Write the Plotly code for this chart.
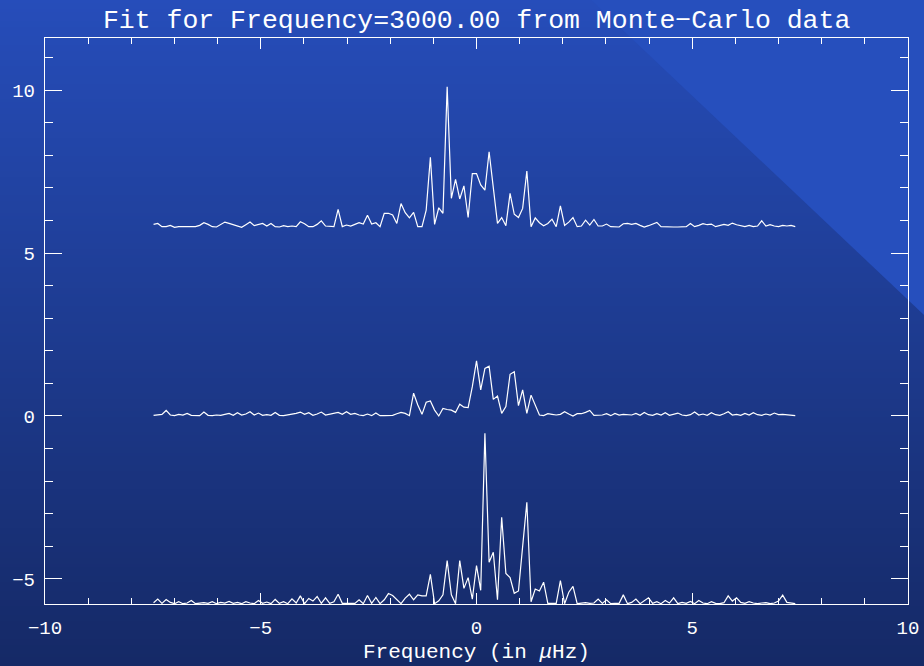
import plotly.graph_objects as go

# ---------------- data ----------------
x_start = -7.484
x_step = 0.0972
n_points = 154

top_trace = [
    5.88, 5.91, 5.81, 5.81, 5.85, 5.79, 5.81, 5.81, 5.81, 5.81,
    5.81, 5.85, 5.93, 5.88, 5.81, 5.80, 5.87, 5.95, 5.91, 5.87,
    5.83, 5.79, 5.87, 5.95, 5.84, 5.87, 5.91, 5.83, 5.91, 5.81,
    5.80, 5.84, 5.81, 5.83, 5.81, 5.96, 5.90, 5.81, 5.81, 5.88,
    5.99, 5.83, 5.83, 5.81, 6.34, 5.81, 5.86, 5.83, 5.88, 5.93,
    5.89, 6.16, 5.89, 5.93, 5.81, 6.22, 6.22, 6.17, 5.91, 6.52,
    6.24, 6.08, 6.25, 5.81, 5.81, 6.32, 7.94, 5.88, 6.39, 6.22,
    10.10, 6.68, 7.26, 6.66, 7.06, 6.09, 7.44, 7.44, 7.09, 6.93,
    8.11, 7.03, 5.91, 6.09, 5.84, 6.83, 6.19, 6.09, 6.37, 7.52,
    5.81, 6.08, 5.93, 5.84, 5.91, 6.04, 5.81, 6.45, 5.85, 5.95,
    6.09, 5.81, 5.83, 6.01, 5.86, 6.03, 5.83, 5.83, 5.89, 5.81,
    5.80, 5.80, 5.90, 5.91, 5.88, 5.91, 5.85, 5.80, 5.84, 5.88,
    5.94, 5.81, 5.80, 5.80, 5.80, 5.80, 5.80, 5.81, 5.91, 5.81,
    5.85, 5.90, 5.87, 5.89, 5.81, 5.85, 5.88, 5.85, 5.92, 5.87,
    5.83, 5.81, 5.85, 5.81, 5.83, 5.99, 5.83, 5.87, 5.83, 5.81,
    5.85, 5.83, 5.85, 5.81,
]

middle_trace = [
    0.02, 0.03, 0.05, 0.17, 0.03, 0.01, 0.05, 0.03, 0.08, 0.02,
    0.02, 0.01, 0.12, 0.02, 0.01, 0.03, 0.02, 0.05, 0.08, 0.02,
    0.10, 0.03, 0.06, 0.13, 0.03, 0.09, 0.02, 0.04, 0.02, 0.11,
    0.02, 0.01, 0.03, 0.05, 0.08, 0.12, 0.05, 0.10, 0.02, 0.06,
    0.12, 0.03, 0.05, 0.08, 0.11, 0.05, 0.13, 0.05, 0.08, 0.03,
    0.01, 0.06, 0.01, 0.09, 0.01, 0.01, 0.02, 0.02, 0.07, 0.11,
    0.08, 0.01, 0.70, 0.34, 0.05, 0.42, 0.46, 0.18, 0.00, 0.23,
    0.20, 0.18, 0.11, 0.36, 0.27, 0.26, 0.90, 1.69, 0.80, 1.46,
    1.53, 0.51, 0.61, 0.08, 0.29, 1.28, 1.36, 0.32, 0.80, 0.08,
    0.64, 0.34, 0.03, 0.01, 0.07, 0.05, 0.03, 0.05, 0.13, 0.06,
    0.00, 0.07, 0.07, 0.11, 0.17, 0.02, 0.02, 0.03, 0.07, 0.01,
    0.08, 0.03, 0.05, 0.05, 0.03, 0.08, 0.02, 0.11, 0.04, 0.02,
    0.07, 0.03, 0.10, 0.02, 0.05, 0.09, 0.03, 0.01, 0.04, 0.12,
    0.03, 0.06, 0.02, 0.10, 0.04, 0.02, 0.07, 0.13, 0.03, 0.05,
    0.02, 0.08, 0.03, 0.10, 0.04, 0.02, 0.06, 0.03, 0.09, 0.04,
    0.05, 0.03, 0.02, 0.01,
]

bottom_trace = [
    -5.73, -5.62, -5.75, -5.63, -5.72, -5.76, -5.70, -5.76, -5.74, -5.66,
    -5.76, -5.75, -5.73, -5.75, -5.70, -5.76, -5.72, -5.74, -5.69, -5.75,
    -5.72, -5.76, -5.70, -5.74, -5.76, -5.66, -5.75, -5.71, -5.76, -5.63,
    -5.75, -5.70, -5.76, -5.61, -5.74, -5.52, -5.76, -5.60, -5.68, -5.54,
    -5.75, -5.58, -5.75, -5.70, -5.47, -5.75, -5.75, -5.75, -5.75, -5.64,
    -5.76, -5.51, -5.75, -5.57, -5.76, -5.64, -5.45, -5.51, -5.64, -5.76,
    -5.59, -5.47, -5.64, -5.49, -5.52, -5.52, -4.86, -5.76, -5.67, -5.49,
    -4.44, -5.49, -5.76, -4.44, -5.29, -4.96, -5.62, -4.59, -5.35, -0.53,
    -4.49, -4.18, -5.64, -3.11, -4.83, -4.96, -5.44, -5.37, -4.00, -2.65,
    -5.70, -5.31, -5.37, -5.10, -5.75, -5.76, -5.75, -5.05, -5.76, -5.41,
    -5.23, -5.76, -5.75, -5.73, -5.75, -5.74, -5.62, -5.75, -5.64, -5.76,
    -5.75, -5.75, -5.49, -5.76, -5.72, -5.62, -5.76, -5.68, -5.58, -5.75,
    -5.70, -5.76, -5.66, -5.74, -5.58, -5.76, -5.72, -5.75, -5.69, -5.76,
    -5.66, -5.74, -5.76, -5.70, -5.75, -5.76, -5.73, -5.52, -5.68, -5.58,
    -5.72, -5.75, -5.70, -5.74, -5.76, -5.74, -5.73, -5.76, -5.74, -5.68,
    -5.50, -5.72, -5.75, -5.76,
]

x_tick_values = [-10, -5, 0, 5, 10]
y_tick_values = [-5, 0, 5, 10]
x_range = [-10, 10]
y_range = [-5.77, 11.6]

title_text = "Fit for Frequency=3000.00 from Monte\u2212Carlo data"
x_title_text = "Frequency (in <i>\u03bc</i>Hz)"

freq = [x_start + i * x_step for i in range(n_points)]

# ---------------- figure ----------------
W, H = 924, 666
ml, mr, mt, mb = 45, 16, 38, 62
pw, ph = W - ml - mr, H - mt - mb

fig = go.Figure()
for series in (top_trace, middle_trace, bottom_trace):
    fig.add_trace(go.Scatter(x=freq[:len(series)], y=series, mode="lines",
                             line=dict(color="white", width=1.2),
                             showlegend=False, hoverinfo="skip"))

# background gradient (vertical) built from thin strips
top_col = (38, 77, 186)
bot_col = (21, 41, 102)
shapes = []
strip = 3
for py in range(0, H, strip):
    t = (py + strip / 2) / H
    c = tuple(round(top_col[k] + (bot_col[k] - top_col[k]) * t) for k in range(3))
    y0 = (H - mb - py) / ph
    y1 = (H - mb - py - strip - 0.5) / ph
    shapes.append(dict(type="rect", xref="paper", yref="paper",
                       x0=-ml / pw, x1=(W - ml) / pw, y0=y1, y1=y0,
                       fillcolor="rgb(%d,%d,%d)" % c, line=dict(width=0),
                       layer="below"))


def px2paper(px, py):
    return (px - ml) / pw, (H - mb - py) / ph


tri = [px2paper(591, 0), px2paper(W, 0), px2paper(W, 315)]
path = "M %f %f L %f %f L %f %f Z" % (tri[0][0], tri[0][1], tri[1][0], tri[1][1],
                                      tri[2][0], tri[2][1])
shapes.append(dict(type="path", xref="paper", yref="paper", path=path,
                   fillcolor="rgb(38,79,189)", line=dict(width=0), layer="below"))

font_family = "Liberation Mono, DejaVu Sans Mono, monospace"

axis_common = dict(showgrid=False, zeroline=False, showline=True,
                   linecolor="white", linewidth=1.4, mirror="ticks",
                   ticks="inside", tickcolor="white", tickwidth=1.3,
                   tickfont=dict(family=font_family, size=19, color="white"))

fig.update_layout(
    width=W, height=H,
    margin=dict(l=ml, r=mr, t=mt, b=mb, autoexpand=False),
    paper_bgcolor="rgb(21,41,102)",
    plot_bgcolor="rgba(0,0,0,0)",
    shapes=shapes,
    title=dict(text=title_text, x=0.5158, xanchor="center", y=1 - 19 / H,
               yanchor="middle", yref="container",
               font=dict(family=font_family, size=26.5, color="white")),
    xaxis=dict(range=x_range, tickvals=x_tick_values, ticklen=11,
               ticklabelstandoff=6,
               minor=dict(dtick=1, tick0=0, ticks="inside", ticklen=5.5,
                          tickcolor="white", tickwidth=1.2),
               **axis_common),
    yaxis=dict(range=y_range, tickvals=y_tick_values, ticklen=17,
               ticklabelstandoff=5,
               minor=dict(dtick=1, tick0=0, ticks="inside", ticklen=8,
                          tickcolor="white", tickwidth=1.2),
               **axis_common),
    annotations=[dict(text=x_title_text, xref="paper", yref="paper",
                      x=0.5, y=(H - mb - 652) / ph, xanchor="center",
                      yanchor="middle", showarrow=False,
                      font=dict(family=font_family, size=21, color="white"))],
)

fig.write_html("out.html")
